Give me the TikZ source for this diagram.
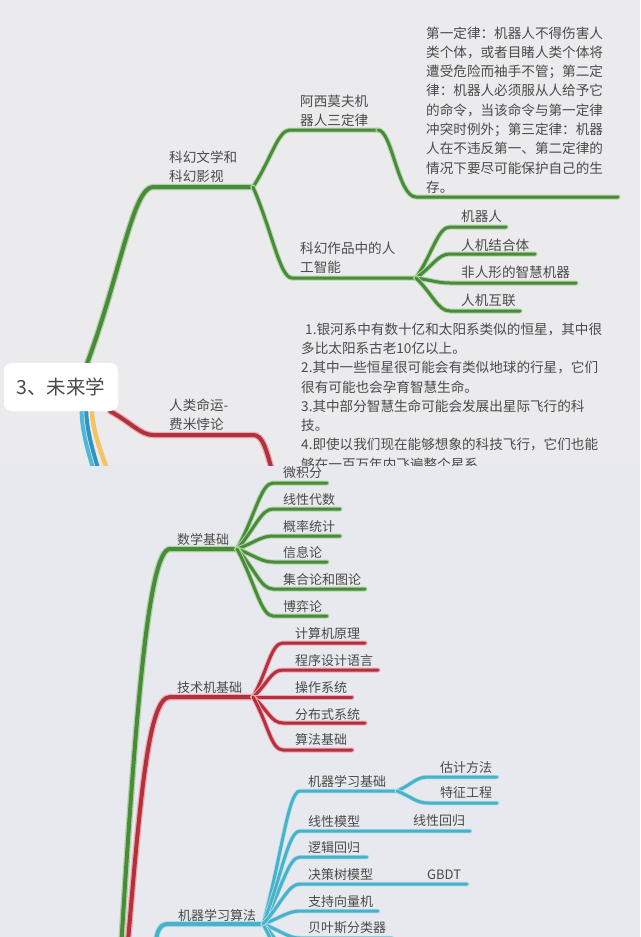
\documentclass[tikz,border=0pt]{standalone}
\usepackage{fontspec}
\newfontfamily\cjk{Noto Sans CJK SC}
\usetikzlibrary{calc}
\definecolor{bgtop}{HTML}{EBEBED}
\definecolor{bgbot}{HTML}{E8E9EE}
\definecolor{txt}{HTML}{4A4A4A}
\definecolor{grn}{HTML}{4A8A3C}
\definecolor{grnl}{HTML}{AFD6A2}
\definecolor{rd}{HTML}{B0323E}
\definecolor{rdl}{HTML}{F3A9B0}
\definecolor{bl}{HTML}{47B2CA}
\definecolor{bll}{HTML}{B2DEE8}
\definecolor{yl}{HTML}{F2C462}
\definecolor{bltrunk}{HTML}{2F93C8}
\definecolor{cyantrunk}{HTML}{4DB9D9}
\begin{document}
\begin{tikzpicture}[x=1pt,y=-1pt,
  lbl/.style={anchor=west, inner sep=0pt, text=txt, align=left, font=\cjk\fontsize{13.6}{19.3}\selectfont},
  lbls/.style={lbl, font=\cjk\fontsize{13}{19}\selectfont},
  rootbox/.style={fill=white, rounded corners=8pt, minimum width=114pt, minimum height=48pt, inner sep=0pt, text=txt, font=\cjk\fontsize{19.5}{22}\selectfont},
  gmain/.style={draw=grn, line width=4pt, line cap=round, preaction={draw=grnl, line width=6.5pt, line cap=round}},
  gchild/.style={draw=grn, line width=3pt, line cap=round, preaction={draw=grnl, line width=5pt, line cap=round}},
  rmain/.style={draw=rd, line width=4pt, line cap=round, preaction={draw=rdl, line width=6.5pt, line cap=round}},
  rchild/.style={draw=rd, line width=3pt, line cap=round, preaction={draw=rdl, line width=5pt, line cap=round}},
  bmain/.style={draw=bl, line width=4pt, line cap=round, preaction={draw=bll, line width=6pt, line cap=round}},
  bchild/.style={draw=bl, line width=3pt, line cap=round, preaction={draw=bll, line width=4.5pt, line cap=round}},
  mm/.style={to path={.. controls ($(\tikztostart)!0.5!(\tikztotarget)$) and ($(\tikztotarget)+(-12,0)$) .. (\tikztotarget) \tikztonodes}}
]
\useasboundingbox (0,0) rectangle (640,937);
\fill[bgtop] (0,0) rectangle (640,465);
\fill[bgbot] (0,465) rectangle (640,937);

% ---------------- top panel ----------------
\begin{scope}
\clip (0,0) rectangle (640,465);
\node[rootbox] (root) at (61,387) {3、未来学};

\coordinate (kh-s) at (153,187);
\coordinate (kh-e) at (253,187);
\coordinate (asm-s) at (290,130);
\coordinate (asm-e) at (378,130);
\coordinate (law-s) at (416,197);
\coordinate (law-e) at (618,197);
\coordinate (zp-s) at (292,278);
\coordinate (zp-e) at (416,278);
\coordinate (jqr-s) at (450,227);   \coordinate (jqr-e) at (506,227);
\coordinate (rjj-s) at (450,254);   \coordinate (rjj-e) at (535,254);
\coordinate (frx-s) at (450,283);   \coordinate (frx-e) at (576,283);
\coordinate (rjh-s) at (450,311);   \coordinate (rjh-e) at (520,311);
\coordinate (rl-s) at (153,435);
\coordinate (rl-e) at (253,435);
\coordinate (fermi-turn) at (275,482);
\coordinate (blue-end) at (101,478);
\coordinate (cyan-end) at (96,478);
\coordinate (yel-end) at (110,478);

% green branch
\draw[gmain] ($(root.north west)!0.73!(root.north east)$) .. controls (120,275) and (133,187) .. (kh-s) -- (kh-e);
\draw[gchild] (kh-e) to[mm] (asm-s) -- (asm-e);
\draw[gchild] (asm-e) .. controls (392,130) and (398,197) .. (law-s) -- (law-e);
\draw[gchild] (kh-e) to[mm] (zp-s) -- (zp-e);
\draw[gchild] (zp-e) to[mm] (jqr-s) -- (jqr-e);
\draw[gchild] (zp-e) to[mm] (rjj-s) -- (rjj-e);
\draw[gchild] (zp-e) to[mm] (frx-s) -- (frx-e);
\draw[gchild] (zp-e) to[mm] (rjh-s) -- (rjh-e);

% red branch
\draw[rmain] ($(root.south west)!0.93!(root.south east)$) to[mm] (rl-s) -- (rl-e) .. controls (263,435) and (266,448) .. (fermi-turn);

% yellow and blue branches
\draw[draw=yl, line width=4.5pt] ($(root.south west)!0.77!(root.south east)$) .. controls (93,432) and (101,452) .. (yel-end);
\draw[draw=bltrunk, line width=4pt] ($(root.south west)!0.72!(root.south east)$) .. controls (87,432) and (93,452) .. (blue-end);
\draw[draw=cyantrunk, line width=4pt] ($(root.south west)!0.68!(root.south east)$) .. controls (82,432) and (88,452) .. (cyan-end);

\node[rootbox] at (root) {3、未来学};

\node[lbl] (kh) at (169,167) {科幻文学和\\科幻影视};
\node[lbl] (asm) at (300,111) {阿西莫夫机\\器人三定律};
\node[lbl] (law) at (426,110) {第一定律：机器人不得伤害人\\类个体，或者目睹人类个体将\\遭受危险而袖手不管；第二定\\律：机器人必须服从人给予它\\的命令，当该命令与第一定律\\冲突时例外；第三定律：机器\\人在不违反第一、第二定律的\\情况下要尽可能保护自己的生\\存。};
\node[lbl] (zp) at (300,257.5) {科幻作品中的人\\工智能};
\node[lbl] (jqr) at (461,216) {机器人};
\node[lbl] (rjj) at (461,245) {人机结合体};
\node[lbl] (frx) at (461,272) {非人形的智慧机器};
\node[lbl] (rjh) at (461,300) {人机互联};
\node[lbl] (rl) at (169,415) {人类命运-\\费米悖论};
\node[lbl] (fermi) at (301,396.5) {\hspace*{4pt}1.银河系中有数十亿和太阳系类似的恒星，其中很\\多比太阳系古老10亿以上。\\2.其中一些恒星很可能会有类似地球的行星，它们\\很有可能也会孕育智慧生命。\\3.其中部分智慧生命可能会发展出星际飞行的科\\技。\\4.即使以我们现在能够想象的科技飞行，它们也能\\够在一百万年内飞遍整个星系};
\end{scope}

% ---------------- bottom panel ----------------
\begin{scope}
\clip (0,465) rectangle (640,937);
\coordinate (gtrunk) at (120,965);
\coordinate (rtrunk) at (126,965);
\coordinate (btrunk) at (153,975);

\coordinate (sx-s) at (170,549);  \coordinate (sx-e) at (237,549);
\coordinate (wjf-s) at (273,483); \coordinate (wjf-e) at (327,483);
\coordinate (xd-s) at (273,509);  \coordinate (xd-e) at (340,509);
\coordinate (gl-s) at (273,536);  \coordinate (gl-e) at (340,536);
\coordinate (xx-s) at (273,562);  \coordinate (xx-e) at (327,562);
\coordinate (jh-s) at (273,589);  \coordinate (jh-e) at (365,589);
\coordinate (by-s) at (273,616);  \coordinate (by-e) at (327,616);

\coordinate (js-s) at (170,697);  \coordinate (js-e) at (253,697);
\coordinate (jsj-s) at (283,643); \coordinate (jsj-e) at (365,643);
\coordinate (cx-s) at (283,670);  \coordinate (cx-e) at (378,670);
\coordinate (cz-s) at (283,697);  \coordinate (cz-e) at (352,697);
\coordinate (fb-s) at (283,723);  \coordinate (fb-e) at (365,723);
\coordinate (sf-s) at (283,750);  \coordinate (sf-e) at (352,750);

\coordinate (ml-s) at (168,924);  \coordinate (ml-e) at (263,924);
\coordinate (jc-s) at (300,791);  \coordinate (jc-e) at (397,791);
\coordinate (gj-s) at (428,777);  \coordinate (gj-e) at (497,777);
\coordinate (tz-s) at (428,803);  \coordinate (tz-e) at (497,803);
\coordinate (xm-s) at (300,831);  \coordinate (xm-e) at (402,831);
\coordinate (xh-e) at (470,831);
\coordinate (lj-s) at (300,857);  \coordinate (lj-e) at (367,857);
\coordinate (jcs-s) at (300,884); \coordinate (jcs-e) at (415,884);
\coordinate (gb-e) at (467,884);
\coordinate (zc-s) at (300,911);  \coordinate (zc-e) at (378,911);
\coordinate (bs-s) at (300,938);  \coordinate (bs-e) at (392,938);
\coordinate (ex1-s) at (300,964); \coordinate (ex1-e) at (380,964);
\coordinate (ex2-s) at (300,991); \coordinate (ex2-e) at (380,991);

% math
\draw[gmain] (gtrunk) .. controls (135,720) and (148,549) .. (sx-s) -- (sx-e);
\foreach \c in {wjf,xd,gl,xx,jh,by}{
  \draw[gchild] (sx-e) to[mm] (\c-s) -- (\c-e);
}
% tech
\draw[rmain] (rtrunk) .. controls (140,800) and (148,697) .. (js-s) -- (js-e);
\foreach \c in {jsj,cx,cz,fb,sf}{
  \draw[rchild] (js-e) to[mm] (\c-s) -- (\c-e);
}
% ml
\draw[bmain] (btrunk) .. controls (155,935) and (157,924) .. (ml-s) -- (ml-e);
\foreach \c in {jc,lj,zc,bs,ex1,ex2}{
  \draw[bchild] (ml-e) to[mm] (\c-s) -- (\c-e);
}
\draw[bchild] (ml-e) to[mm] (xm-s) -- (xm-e) -- (xh-e);
\draw[bchild] (ml-e) to[mm] (jcs-s) -- (jcs-e) -- (gb-e);
\draw[bchild] (jc-e) to[mm] (gj-s) -- (gj-e);
\draw[bchild] (jc-e) to[mm] (tz-s) -- (tz-e);

\node[lbls] (sx) at (177,540) {数学基础};
\node[lbls] (wjf) at (283,473) {微积分};
\node[lbls] (xd) at (283,500) {线性代数};
\node[lbls] (gl) at (283,527) {概率统计};
\node[lbls] (xx) at (283,553) {信息论};
\node[lbls] (jh) at (283,580) {集合论和图论};
\node[lbls] (by) at (283,607) {博弈论};

\node[lbls] (js) at (177,688) {技术机基础};
\node[lbls] (jsj) at (295,634) {计算机原理};
\node[lbls] (cx) at (295,661) {程序设计语言};
\node[lbls] (cz) at (295,688) {操作系统};
\node[lbls] (fb) at (295,715) {分布式系统};
\node[lbls] (sf) at (295,740) {算法基础};

\node[lbls] (ml) at (178,915) {机器学习算法};
\node[lbls] (jc) at (308,781) {机器学习基础};
\node[lbls] (gj) at (440,768) {估计方法};
\node[lbls] (tz) at (440,793) {特征工程};
\node[lbls] (xm) at (308,822) {线性模型};
\node[lbls] (xh) at (413,821) {线性回归};
\node[lbls] (lj) at (308,848) {逻辑回归};
\node[lbls] (jcs) at (308,875) {决策树模型};
\node[lbls] (gb) at (427,875) {GBDT};
\node[lbls] (zc) at (308,902) {支持向量机};
\node[lbls] (bs) at (308,928) {贝叶斯分类器};
\end{scope}
\end{tikzpicture}
\end{document}
